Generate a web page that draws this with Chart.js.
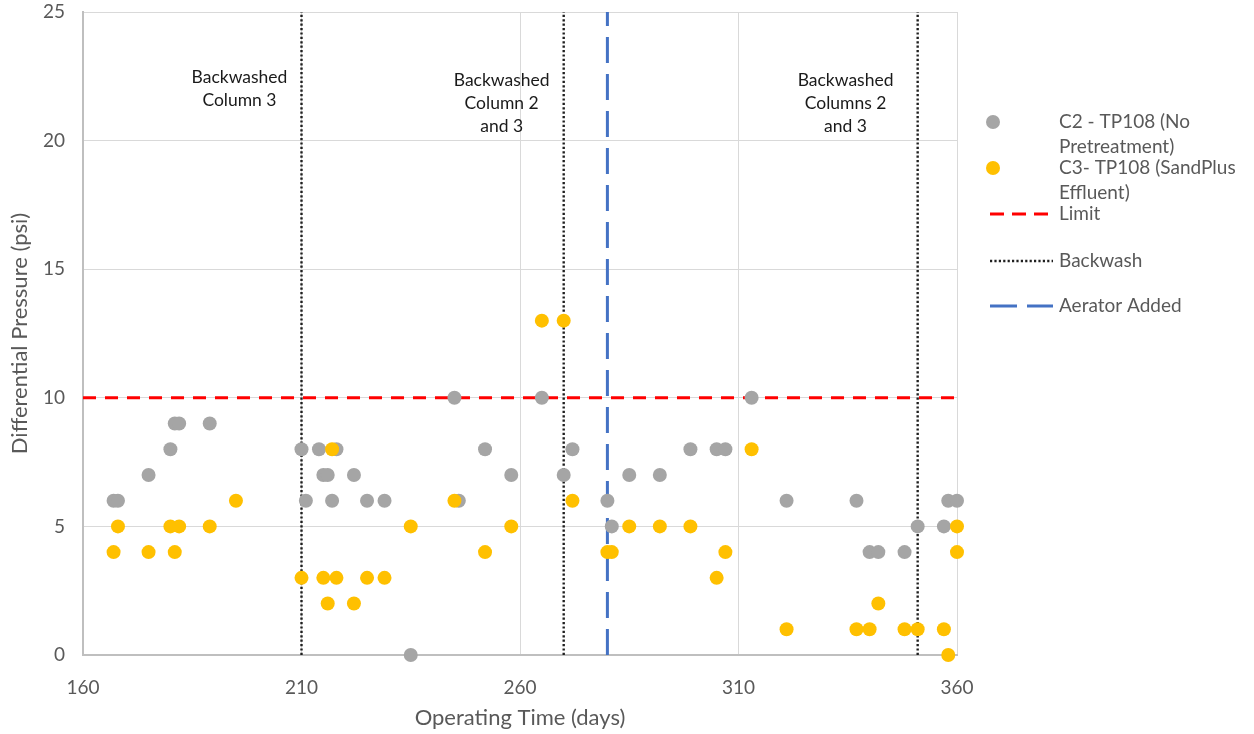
<!DOCTYPE html>
<html>
<head>
<meta charset="utf-8">
<script src="https://cdn.jsdelivr.net/npm/chart.js@4.4.1/dist/chart.umd.min.js"></script>
<style>
  body { margin: 0; background: #fff; }
  #wrap { position: relative; width: 1254px; height: 734px; }
</style>
</head>
<body>
<div id="wrap"><canvas id="pressureChart"></canvas></div>
<script>
// --- data ---
var c2Days   = [167, 168, 175, 180, 181, 182, 189, 210, 211, 214, 215, 216, 217, 218, 222, 225, 229, 235, 245, 246, 252, 258, 265, 270, 272, 280, 281, 285, 292, 299, 305, 307, 313, 321, 337, 340, 342, 348, 351, 357, 358, 360];
var c2Values = [6, 6, 7, 8, 9, 9, 9, 8, 6, 8, 7, 7, 6, 8, 7, 6, 6, 0, 10, 6, 8, 7, 10, 7, 8, 6, 5, 7, 7, 8, 8, 8, 10, 6, 6, 4, 4, 4, 5, 5, 6, 6];

var c3Days   = [167, 168, 175, 180, 181, 182, 189, 195, 210, 215, 216, 217, 218, 222, 225, 229, 235, 245, 252, 258, 265, 270, 272, 280, 281, 285, 292, 299, 305, 307, 313, 321, 337, 340, 342, 348, 351, 357, 358, 360, 360];
var c3Values = [4, 5, 4, 5, 4, 5, 5, 6, 3, 3, 2, 8, 3, 2, 3, 3, 5, 6, 4, 5, 13, 13, 6, 4, 4, 5, 5, 5, 3, 4, 8, 1, 1, 1, 2, 1, 1, 1, 0, 5, 4];

var limitValue   = 10;
var backwashDays = [210, 270, 351];
var aeratorDay   = 280;

var xTicks = [160, 210, 260, 310, 360];
var yTicks = [0, 5, 10, 15, 20, 25];

var notes = [
  { day: 195.8, lines: ['Backwashed', 'Column 3'] },
  { day: 255.8, lines: ['Backwashed', 'Column 2', 'and 3'] },
  { day: 334.5, lines: ['Backwashed', 'Columns 2', 'and 3'] }
];

var FONT = 'Lato, "Open Sans", sans-serif';
var GREY_TEXT = '#595959';

function toPoints(xs, ys) {
  return xs.map(function(x, i) { return { x: x, y: ys[i] }; });
}

var datasets = [
  {
    label: 'C3- TP108 (SandPlus Effluent)',
    data: toPoints(c3Days, c3Values),
    backgroundColor: '#ffc000',
    borderWidth: 0,
    pointRadius: 7,
    clip: false
  },
  {
    label: 'C2 - TP108 (No Pretreatment)',
    data: toPoints(c2Days, c2Values),
    backgroundColor: '#a5a5a5',
    borderWidth: 0,
    pointRadius: 7,
    clip: false
  },
  {
    label: 'Limit',
    data: [{ x: xTicks[0], y: limitValue }, { x: xTicks[xTicks.length - 1], y: limitValue }],
    showLine: true,
    borderColor: '#ff0000',
    borderWidth: 3,
    borderDash: [13, 9],
    pointRadius: 0
  },
  {
    label: 'Aerator Added',
    data: [{ x: aeratorDay, y: yTicks[0] }, { x: aeratorDay, y: yTicks[yTicks.length - 1] }],
    showLine: true,
    borderColor: '#4472c4',
    borderWidth: 3,
    borderDash: [26, 11],
    pointRadius: 0
  }
];

backwashDays.forEach(function(d) {
  datasets.push({
    label: 'Backwash',
    data: [{ x: d, y: yTicks[0] }, { x: d, y: yTicks[yTicks.length - 1] }],
    showLine: true,
    borderColor: '#1f1f1f',
    borderWidth: 2.4,
    borderDash: [2.2, 2.2],
    pointRadius: 0
  });
});

// text notes inside the plot + legend on the right
var extras = {
  id: 'extras',
  afterDatasetsDraw: function(chart) {
    var ctx = chart.ctx;
    var xs = chart.scales.x;
    ctx.save();
    ctx.font = '17.5px ' + FONT;
    ctx.fillStyle = '#1a1a1a';
    ctx.textAlign = 'center';
    ctx.textBaseline = 'middle';
    notes.forEach(function(n) {
      var px = xs.getPixelForValue(n.day);
      n.lines.forEach(function(t, i) {
        ctx.fillText(t, px, (n.lines.length === 2 ? 77 : 80) + i * 23);
      });
    });

    // legend
    ctx.font = '19px ' + FONT;
    ctx.textAlign = 'left';
    var tx = 1059;
    var rows = [
      { text: ['C2 - TP108 (No', 'Pretreatment)'], y: 122, kind: 'dot', color: '#a5a5a5' },
      { text: ['C3- TP108 (SandPlus', 'Effluent)'], y: 168, kind: 'dot', color: '#ffc000' },
      { text: ['Limit'], y: 214, kind: 'line', color: '#ff0000', dash: [14, 8], w: 3 },
      { text: ['Backwash'], y: 261, kind: 'line', color: '#1f1f1f', dash: [2.2, 2.2], w: 2.4 },
      { text: ['Aerator Added'], y: 306, kind: 'line', color: '#4472c4', dash: [27, 10], w: 3 }
    ];
    rows.forEach(function(r) {
      if (r.kind === 'dot') {
        ctx.beginPath();
        ctx.fillStyle = r.color;
        ctx.arc(993, r.y, 7, 0, Math.PI * 2);
        ctx.fill();
      } else {
        ctx.beginPath();
        ctx.strokeStyle = r.color;
        ctx.lineWidth = r.w;
        ctx.setLineDash(r.dash);
        ctx.moveTo(990, r.y);
        ctx.lineTo(1053, r.y);
        ctx.stroke();
        ctx.setLineDash([]);
      }
      ctx.fillStyle = GREY_TEXT;
      r.text.forEach(function(t, i) {
        ctx.fillText(t, tx, r.y + i * 24.5);
      });
    });
    ctx.restore();
  }
};

var ctx = document.getElementById('pressureChart').getContext('2d');
var pressureChart = new Chart(ctx, {
  type: 'scatter',
  data: { datasets: datasets },
  options: {
    responsive: true,
    maintainAspectRatio: false,
    animation: false,
    layout: { padding: { top: 12, right: 297, bottom: 0, left: 0 } },
    plugins: {
      legend: { display: false },
      tooltip: { enabled: false }
    },
    scales: {
      x: {
        type: 'linear',
        min: xTicks[0],
        max: xTicks[xTicks.length - 1],
        afterBuildTicks: function(scale) {
          scale.ticks = xTicks.map(function(v) { return { value: v }; });
        },
        afterFit: function(scale) { scale.height = 79; },
        grid: { color: '#d9d9d9', drawTicks: false },
        border: { color: '#bfbfbf', width: 2 },
        ticks: { color: GREY_TEXT, font: { size: 19, family: FONT }, padding: 21 },
        title: {
          display: true,
          text: 'Operating Time (days)',
          color: GREY_TEXT,
          font: { size: 22, family: FONT },
          padding: { top: 0, bottom: 3 }
        }
      },
      y: {
        min: yTicks[0],
        max: yTicks[yTicks.length - 1],
        afterBuildTicks: function(scale) {
          scale.ticks = yTicks.map(function(v) { return { value: v }; });
        },
        afterFit: function(scale) {
          scale.width = 83;
          // tick padding is horizontal here, keep it out of the top/bottom room
          scale.paddingTop = 8;
          scale.paddingBottom = 8;
        },
        grid: { color: '#d9d9d9', drawTicks: false },
        border: { color: '#bfbfbf', width: 2 },
        ticks: { color: GREY_TEXT, font: { size: 19, family: FONT }, padding: 18 },
        title: {
          display: true,
          text: 'Differential Pressure (psi)',
          color: GREY_TEXT,
          font: { size: 22, family: FONT },
          padding: { top: 7, bottom: 0 }
        }
      }
    }
  },
  plugins: [extras]
});
</script>
</body>
</html>
